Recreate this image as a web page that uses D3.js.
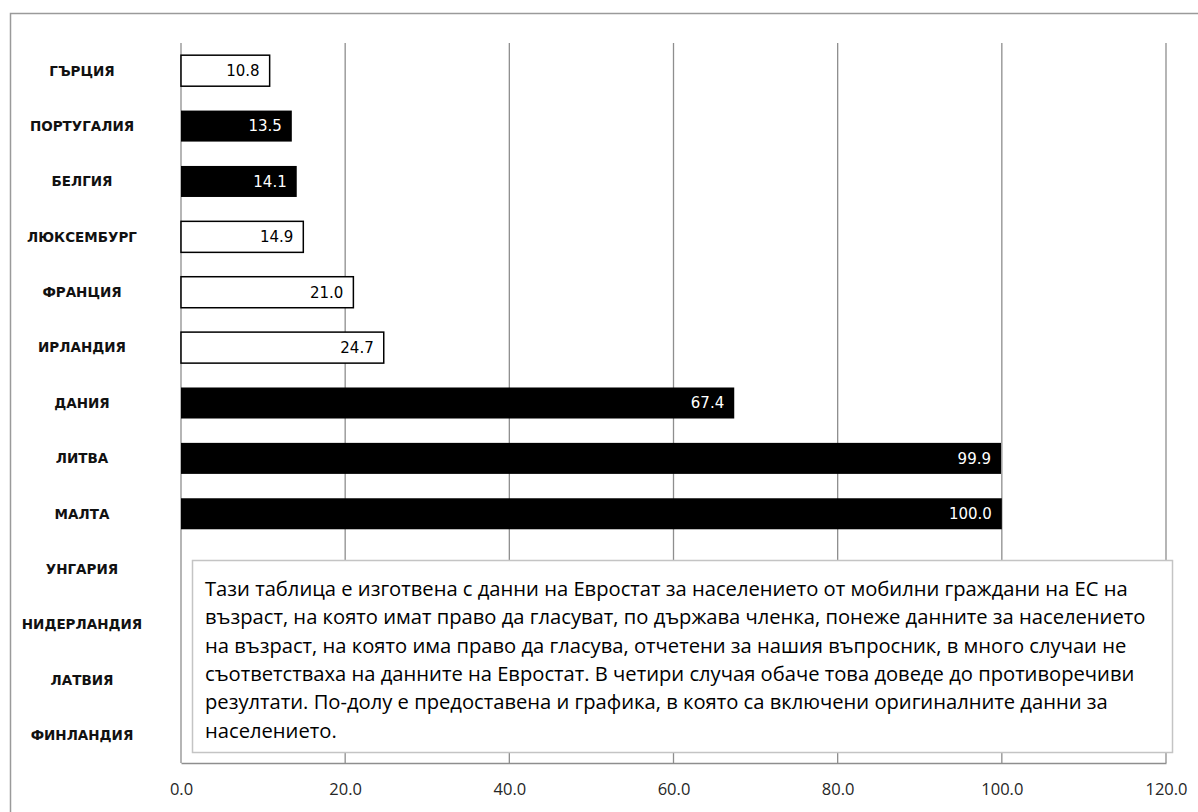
<!DOCTYPE html>
<html>
<head>
<meta charset="utf-8">
<script src="https://cdn.jsdelivr.net/npm/d3@7"></script>
<style>
  body { margin: 0; background: #fff; }
  svg { display: block; }
</style>
</head>
<body>
<div id="chart"></div>
<script>
// data
const countries = ["ГЪРЦИЯ", "ПОРТУГАЛИЯ", "БЕЛГИЯ", "ЛЮКСЕМБУРГ", "ФРАНЦИЯ", "ИРЛАНДИЯ",
    "ДАНИЯ", "ЛИТВА", "МАЛТА", "УНГАРИЯ", "НИДЕРЛАНДИЯ", "ЛАТВИЯ", "ФИНЛАНДИЯ"];
const values = [10.8, 13.5, 14.1, 14.9, 21.0, 24.7, 67.4, 99.9, 100.0, null, null, null, null];
const solid = [false, true, true, false, false, false, true, true, true, false, false, false, false];
const xTicks = [0, 20, 40, 60, 80, 100, 120];
const noteLines = [
    "Тази таблица е изготвена с данни на Евростат за населението от мобилни граждани на ЕС на",
    "възраст, на която имат право да гласуват, по държава членка, понеже данните за населението",
    "на възраст, на която има право да гласува, отчетени за нашия въпросник, в много случаи не",
    "съответстваха на данните на Евростат. В четири случая обаче това доведе до противоречиви",
    "резултати. По-долу е предоставена и графика, в която са включени оригиналните данни за",
    "населението."
];

const width = 1198, height = 812;
const plotLeft = 181, plotRight = 1166, plotTop = 43, plotBottom = 763;

const svg = d3.select("#chart").append("svg")
    .attr("width", width)
    .attr("height", height);

// outer frame (runs off the right and bottom edges)
svg.append("rect")
    .attr("x", 10.5).attr("y", 13.5)
    .attr("width", 1250).attr("height", 850)
    .attr("fill", "none")
    .attr("stroke", "#9a9a9a")
    .attr("stroke-width", 1.5);

const x = d3.scaleLinear().domain([0, 120]).range([plotLeft, plotRight]);
const y = d3.scaleBand().domain(countries).range([plotTop, plotBottom])
    .paddingInner(0.44).paddingOuter(0.22);

// grid lines
svg.append("g")
    .selectAll("line")
    .data(xTicks)
    .enter()
    .append("line")
    .attr("x1", d => x(d)).attr("x2", d => x(d))
    .attr("y1", plotTop).attr("y2", plotBottom)
    .attr("stroke", "#8e8e8e")
    .attr("stroke-width", 1.3);

// x axis
const xAxis = svg.append("g")
    .attr("transform", `translate(0,${plotBottom})`)
    .call(d3.axisBottom(x).tickValues(xTicks).tickFormat(d3.format(".1f"))
        .tickSize(0).tickPadding(20));
xAxis.select(".domain").attr("stroke", "#8e8e8e").attr("stroke-width", 1.5);
xAxis.selectAll("text")
    .style("font-family", "'Open Sans', sans-serif")
    .style("font-size", "16.5px")
    .attr("fill", "#262626");

const rows = countries.map((c, i) => ({ name: c, value: values[i], solid: solid[i] }));

// bars
svg.append("g")
    .selectAll("rect")
    .data(rows.filter(d => d.value != null))
    .enter()
    .append("rect")
    .attr("x", x(0))
    .attr("y", d => y(d.name))
    .attr("width", d => x(d.value) - x(0))
    .attr("height", y.bandwidth())
    .attr("fill", d => d.solid ? "#000" : "#fff")
    .attr("stroke", "#000")
    .attr("stroke-width", d => d.solid ? 0 : 1.5);

// value labels, inside end
svg.append("g")
    .selectAll("text")
    .data(rows.filter(d => d.value != null))
    .enter()
    .append("text")
    .attr("x", d => x(d.value) - 10)
    .attr("y", d => y(d.name) + y.bandwidth() / 2)
    .attr("dy", "0.36em")
    .attr("text-anchor", "end")
    .style("font-family", "'DejaVu Sans', sans-serif")
    .style("font-size", "15px")
    .attr("fill", d => d.solid ? "#fff" : "#000")
    .text(d => d.value.toFixed(1));

// category labels
svg.append("g")
    .selectAll("text")
    .data(countries)
    .enter()
    .append("text")
    .attr("x", 82)
    .attr("y", d => y(d) + y.bandwidth() / 2)
    .attr("dy", "0.36em")
    .attr("text-anchor", "middle")
    .style("font-family", "'DejaVu Sans', sans-serif")
    .style("font-size", "13.5px")
    .style("font-weight", "bold")
    .attr("fill", "#111")
    .text(d => d);

// note box
const box = { x: 192, y: 560, w: 980, h: 192 };
svg.append("rect")
    .attr("x", box.x + 0.5).attr("y", box.y + 0.5)
    .attr("width", box.w).attr("height", box.h)
    .attr("fill", "#fff")
    .attr("stroke", "#c4c4c4")
    .attr("stroke-width", 1.5);

const note = svg.append("g")
    .selectAll("text")
    .data(noteLines)
    .enter()
    .append("text")
    .attr("x", box.x + 13)
    .attr("y", (d, i) => box.y + 36 + i * 28.3)
    .style("font-family", "'Open Sans', sans-serif")
    .style("font-size", "18px")
    .attr("fill", "#000")
    .text(d => d);

// fit the widest line to the width seen in the picture
let widest = 0;
note.each(function () { widest = Math.max(widest, this.getComputedTextLength()); });
note.style("font-size", (18 * 941 / widest).toFixed(2) + "px");
</script>
</body>
</html>
